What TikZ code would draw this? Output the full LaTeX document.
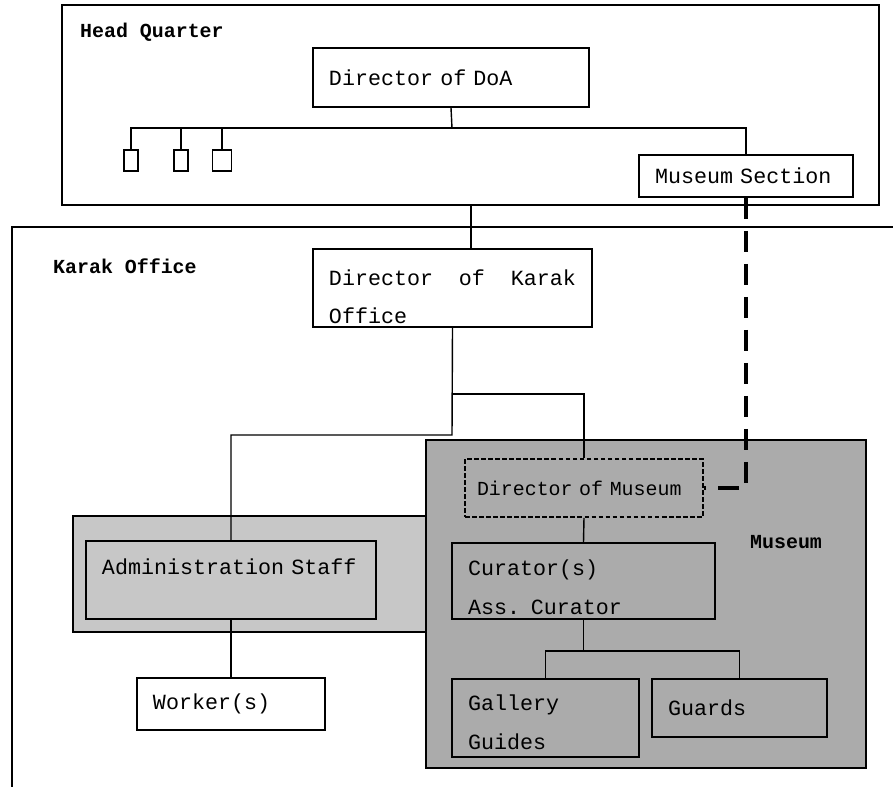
\documentclass[tikz,border=0pt]{standalone}
\usepackage{fontspec}
\setmonofont{Liberation Mono}
\usepackage{tikz}
\usetikzlibrary{calc}

\newcommand\boxfont{\fontsize{18.5}{33}\selectfont\ttfamily\spaceskip=0.6em\relax}
\newcommand\musfont{\fontsize{17}{20}\selectfont\ttfamily\spaceskip=0.6em\relax}

\tikzset{
  box/.style={draw, line width=1.3pt, inner xsep=0.48cm, inner ysep=0pt, align=left, font=\boxfont},
  tinybox/.style={draw, line width=1.2pt, minimum width=0.42cm, minimum height=0.63cm, inner sep=0pt},
  head/.style={font=\fontsize{17}{20}\selectfont\ttfamily\bfseries, anchor=base west, inner sep=0pt},
  wire/.style={line width=1.2pt},
  link/.style={line width=3.6pt, dash pattern=on 0.63cm off 0.36cm},
}

\begin{document}
\begin{tikzpicture}[x=0.03cm, y=-0.03cm]
        \useasboundingbox (0,0) rectangle (893,787);
        \fill[white] (0,0) rectangle (893,787);
        %FRAMES
        \draw[line width=1.3pt] (62,5) rectangle (879,205);
        \draw[line width=1.3pt] (893,227) -- (12,227) -- (12,787);
        \filldraw[fill=black!22, line width=1.1pt] (73,516) rectangle (426,632);
        \filldraw[fill=black!33, line width=1.3pt] (426,440) rectangle (866,768);
        \node[head] (hq) at (80,38) {Head Quarter};
        \node[head] (ko) at (53,273) {Karak Office};
        \node[head, anchor=west] (mus) at (750,542) {Museum};

        %HEAD QUARTER
        \node[box, minimum width=8.28cm, minimum height=1.77cm, text width=7.32cm] (doa) at (451,77.5) {Director of DoA};
        \node[tinybox] (s1) at (131,160.5) {};
        \node[tinybox] (s2) at (181,160.5) {};
        \node[tinybox, minimum width=0.57cm] (s3) at (222,160.5) {};
        \node[box, minimum width=6.42cm, minimum height=1.26cm, text width=5.46cm] (msec) at (746,176) {Museum Section};
        \coordinate (hqbus) at (452,128);
        \coordinate (hqout) at (471,205);

        %KARAK OFFICE
        \node[box, minimum width=8.37cm, minimum height=2.34cm, text width=7.41cm, text height=1.0cm] (dko) at (452.5,288)
          {\makebox[7.41cm][l]{Director\hfill of\hfill Karak}\\Office};
        \node[box, minimum width=8.7cm, minimum height=2.34cm, text width=7.74cm, text depth=0.78cm] (adm) at (231,580)
          {Administration Staff};
        \node[box, minimum width=5.64cm, minimum height=1.56cm, text width=4.68cm] (wrk) at (231,704) {Worker(s)};
        \coordinate (kbus) at (452,435);
        \coordinate (mbus) at (452,394);

        %MUSEUM
        \node[box, dashed, dash pattern=on 4pt off 2pt, inner xsep=0.36cm, font=\musfont,
          minimum width=7.14cm, minimum height=1.74cm, text width=6.42cm] (dmus) at (584,488) {Director of Museum};
        \node[box, minimum width=7.89cm, minimum height=2.28cm, text width=6.93cm, text height=0.84cm] (cur) at (583.5,581)
          {Curator(s)\\Ass. Curator};
        \node[box, minimum width=5.61cm, minimum height=2.34cm, text width=4.65cm, text height=0.74cm] (gal) at (545.5,718)
          {Gallery\\Guides};
        \node[box, minimum width=5.25cm, minimum height=1.74cm, text width=4.29cm] (grd) at (739.5,708) {Guards};
        \coordinate (cbus) at (583.5,651);

        %LINES
        \draw[wire] (doa.south) -- (hqbus);
        \draw[wire] (s1.north) |- (hqbus) -| (msec.north);
        \draw[wire] (s2.north) -- (s2.north |- hqbus);
        \draw[wire] (s3.north) -- (s3.north |- hqbus);
        \draw[wire] (hqout) -- (hqout |- dko.north);
        \draw[wire] (dko.south) -- (kbus) -| (adm.north);
        \draw[wire] (mbus) -| (dmus.north);
        \draw[wire] (adm.south) -- (wrk.north);
        \draw[wire] (dmus.south) -- (cur.north);
        \draw[wire] (cur.south) -- (cbus);
        \draw[wire] (gal.north) |- (cbus) -| (grd.north);
        \draw[link] (msec.south) |- (dmus.east);
\end{tikzpicture}
\end{document}
